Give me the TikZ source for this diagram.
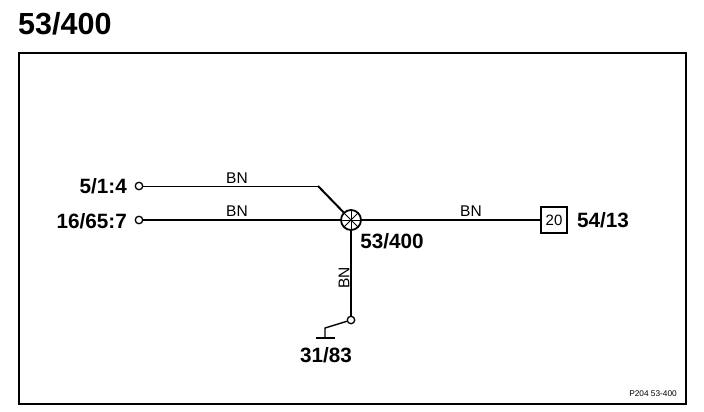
\documentclass[tikz,border=0pt]{standalone}
\usepackage{fontspec}
\setmainfont{Liberation Sans}
\tikzset{
  pin/.style={circle,draw,line width=1.3pt,fill=white,inner sep=0pt,minimum size=7.5pt},
  wire/.style={line width=2pt},
  thinwire/.style={line width=1pt},
  groundwire/.style={line width=1.4pt},
  color code/.style={font=\fontsize{15.5}{17}\selectfont,inner sep=0pt},
  tag/.style={font=\fontsize{20.7}{23}\selectfont\bfseries,inner sep=0pt},
  splice/.style={circle,draw,line width=1.8pt,fill=white,inner sep=0pt,minimum size=20pt,
    path picture={
      \draw[line width=1pt] (path picture bounding box.north west) -- (path picture bounding box.south east);
      \draw[line width=1pt] (path picture bounding box.north east) -- (path picture bounding box.south west);
      \draw[line width=1pt] (path picture bounding box.north) -- (path picture bounding box.south);
      \draw[line width=1pt] (path picture bounding box.east) -- (path picture bounding box.west);
    }},
}
\begin{document}
\begin{tikzpicture}[x=1pt,y=-1pt]
\useasboundingbox (0,0) rectangle (704,412);
\node (frame) [draw,line width=2pt,minimum width=667pt,minimum height=350pt,inner sep=0pt] at (352,228.5) {};
\node (title) [anchor=west,inner sep=0pt,font=\fontsize{30.5}{32}\selectfont\bfseries] at (18,24) {53/400};
%
\node (s) [splice] at (351,220) {};
\node (a) [pin] at (139,186) {};
\node (b) [pin] at (139,220) {};
\node (c) [pin] at (351,320) {};
\node (d) [draw,line width=1.2pt,minimum size=26pt,inner sep=0pt,font=\fontsize{15}{17}\selectfont] at (554,220) {20};
\coordinate (bend) at (318,186);
\coordinate (gnd) at (325,328);
\coordinate (gndbase) at (325,338);
\coordinate (gndl) at (316,338);
\coordinate (gndr) at (335,338);
%
\draw[thinwire] (a) -- (bend);
\draw[wire] (bend) -- (s);
\draw[wire] (b) -- (s);
\draw[wire] (s) -- (d);
\draw[wire] (s) -- (c);
\draw[groundwire] (c) -- (gnd) -- (gndbase);
\draw[groundwire] (gndl) -- (gndr);
%
\node (la) [tag,anchor=east] at (127,186) {5/1:4};
\node (lb) [tag,anchor=east] at (127,221) {16/65:7};
\node (ls) [tag] at (392,241) {53/400};
\node (ld) [tag,anchor=west] at (577,220) {54/13};
\node (lc) [tag] at (326,355) {31/83};
\node (w1) [color code] at (237,178) {BN};
\node (w2) [color code] at (237,211) {BN};
\node (w3) [color code] at (471,211) {BN};
\node (w4) [color code,rotate=90] at (344,278) {BN};
\node (ref) [anchor=east,inner sep=0pt,font=\fontsize{8.3}{10}\selectfont] at (677,394) {P204 53-400};
\end{tikzpicture}
\end{document}
